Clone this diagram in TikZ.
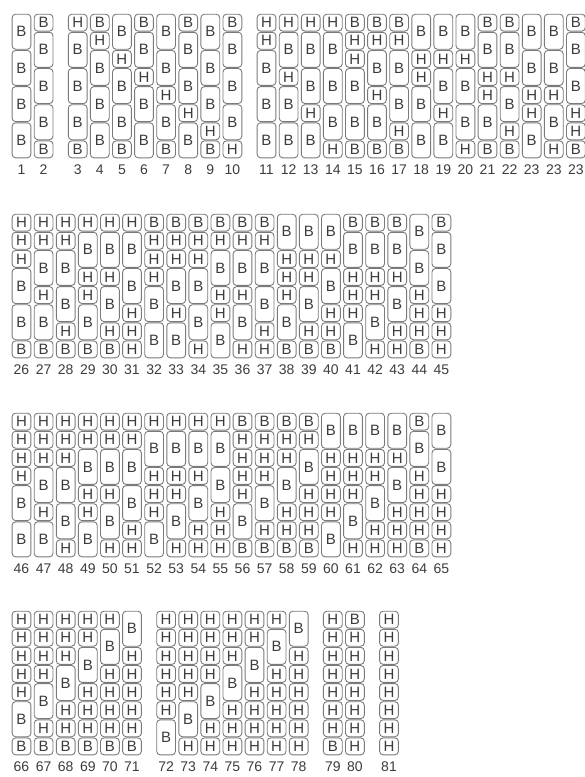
\documentclass[tikz,border=0pt]{standalone}
\usepackage{fontspec}
\setmainfont{Liberation Sans}
\usetikzlibrary{positioning}
\definecolor{brickline}{HTML}{7A7A7A}
\definecolor{bricktext}{HTML}{3C3C3C}

\newcommand{\cpitch}{22.1}
\newcommand{\cunit}{18.1}
% #1 name, #2 column index, #3 group, #4 top, #5 label, #6 cells from top
\newcommand{\brickcol}[6]{%
  \coordinate (#1-0) at ({21.5+#2*\cpitch+#3*12}, #4);
  \foreach \c [count=\k, remember=\k as \kp (initially 0)] in {#6}
    \node[cell \c, name=#1-\k, below=1.2pt of #1-\kp];
  \node[numlabel] (#1-lbl) at ({21.5+#2*\cpitch+#3*12}, #4+157) {#5};
}

\begin{document}
\begin{tikzpicture}[x=1pt, y=-1pt,
  brick/.style={draw=brickline, line width=0.9pt, rounded corners=3.5pt, minimum width=18.8pt, inner sep=0pt, outer sep=0pt, text=bricktext, font=\fontsize{15}{15}\selectfont},
  cell H/.style={brick, minimum height=\cunit pt-1.2pt, node contents=H},
  cell b/.style={brick, minimum height=\cunit pt-1.2pt, node contents=B},
  cell B/.style={brick, minimum height=2*\cunit pt-1.2pt, node contents=B},
  numlabel/.style={inner sep=0pt, text=bricktext, font=\fontsize{14}{14}\selectfont}
]
  \useasboundingbox (0,0) rectangle (585,777);

  % first row
  \brickcol{c1}{0}{0}{13}{1}{B,B,B,B}
  \brickcol{c2}{1}{0}{13}{2}{b,B,B,B,b}
  \brickcol{c3}{2}{1}{13}{3}{H,B,B,B,b}
  \brickcol{c4}{3}{1}{13}{4}{b,H,B,B,B}
  \brickcol{c5}{4}{1}{13}{5}{B,H,B,B,b}
  \brickcol{c6}{5}{1}{13}{6}{b,B,H,B,B}
  \brickcol{c7}{6}{1}{13}{7}{B,B,H,B,b}
  \brickcol{c8}{7}{1}{13}{8}{b,B,B,H,B}
  \brickcol{c9}{8}{1}{13}{9}{B,B,B,H,b}
  \brickcol{c10}{9}{1}{13}{10}{b,B,B,B,H}
  \brickcol{c11}{10}{2}{13}{11}{H,H,B,B,B}
  \brickcol{c12}{11}{2}{13}{12}{H,B,H,B,B}
  \brickcol{c13}{12}{2}{13}{13}{H,B,B,H,B}
  \brickcol{c14}{13}{2}{13}{14}{H,B,B,B,H}
  \brickcol{c15}{14}{2}{13}{15}{b,H,H,B,B,b}
  \brickcol{c16}{15}{2}{13}{16}{b,H,B,H,B,b}
  \brickcol{c17}{16}{2}{13}{17}{b,H,B,B,H,b}
  \brickcol{c18}{17}{2}{13}{18}{B,H,H,B,B}
  \brickcol{c19}{18}{2}{13}{19}{B,H,B,H,B}
  \brickcol{c20}{19}{2}{13}{20}{B,H,B,B,H}
  \brickcol{c21}{20}{2}{13}{21}{b,B,H,H,B,b}
  \brickcol{c22}{21}{2}{13}{22}{b,B,H,B,H,b}
  \brickcol{c23}{22}{2}{13}{23}{B,B,H,H,B}
  \brickcol{c24}{23}{2}{13}{23}{B,B,H,B,H}
  \brickcol{c25}{24}{2}{13}{23}{b,B,B,H,H,b}

  % second row
  \brickcol{c26}{0}{0}{213}{26}{H,H,H,B,B,b}
  \brickcol{c27}{1}{0}{213}{27}{H,H,B,H,B,b}
  \brickcol{c28}{2}{0}{213}{28}{H,H,B,B,H,b}
  \brickcol{c29}{3}{0}{213}{29}{H,B,H,H,B,b}
  \brickcol{c30}{4}{0}{213}{30}{H,B,H,B,H,b}
  \brickcol{c31}{5}{0}{213}{31}{H,B,B,H,H,H}
  \brickcol{c32}{6}{0}{213}{32}{b,H,H,H,B,B}
  \brickcol{c33}{7}{0}{213}{33}{b,H,H,B,H,B}
  \brickcol{c34}{8}{0}{213}{34}{b,H,H,B,B,H}
  \brickcol{c35}{9}{0}{213}{35}{b,H,B,H,H,B}
  \brickcol{c36}{10}{0}{213}{36}{b,H,B,H,B,H}
  \brickcol{c37}{11}{0}{213}{37}{b,H,B,B,H,H}
  \brickcol{c38}{12}{0}{213}{38}{B,H,H,H,B,b}
  \brickcol{c39}{13}{0}{213}{39}{B,H,H,B,H,b}
  \brickcol{c40}{14}{0}{213}{40}{B,H,B,H,H,b}
  \brickcol{c41}{15}{0}{213}{41}{b,B,H,H,H,B}
  \brickcol{c42}{16}{0}{213}{42}{b,B,H,H,B,H}
  \brickcol{c43}{17}{0}{213}{43}{b,B,H,B,H,H}
  \brickcol{c44}{18}{0}{213}{44}{B,B,H,H,H,b}
  \brickcol{c45}{19}{0}{213}{45}{b,B,B,H,H,H}

  % third row
  \brickcol{c46}{0}{0}{412}{46}{H,H,H,H,B,B}
  \brickcol{c47}{1}{0}{412}{47}{H,H,H,B,H,B}
  \brickcol{c48}{2}{0}{412}{48}{H,H,H,B,B,H}
  \brickcol{c49}{3}{0}{412}{49}{H,H,B,H,H,B}
  \brickcol{c50}{4}{0}{412}{50}{H,H,B,H,B,H}
  \brickcol{c51}{5}{0}{412}{51}{H,H,B,B,H,H}
  \brickcol{c52}{6}{0}{412}{52}{H,B,H,H,H,B}
  \brickcol{c53}{7}{0}{412}{53}{H,B,H,H,B,H}
  \brickcol{c54}{8}{0}{412}{54}{H,B,H,B,H,H}
  \brickcol{c55}{9}{0}{412}{55}{H,B,B,H,H,H}
  \brickcol{c56}{10}{0}{412}{56}{b,H,H,H,H,B,b}
  \brickcol{c57}{11}{0}{412}{57}{b,H,H,H,B,H,b}
  \brickcol{c58}{12}{0}{412}{58}{b,H,H,B,H,H,b}
  \brickcol{c59}{13}{0}{412}{59}{b,H,B,H,H,H,b}
  \brickcol{c60}{14}{0}{412}{60}{B,H,H,H,H,B}
  \brickcol{c61}{15}{0}{412}{61}{B,H,H,H,B,H}
  \brickcol{c62}{16}{0}{412}{62}{B,H,H,B,H,H}
  \brickcol{c63}{17}{0}{412}{63}{B,H,B,H,H,H}
  \brickcol{c64}{18}{0}{412}{64}{b,B,H,H,H,H,b}
  \brickcol{c65}{19}{0}{412}{65}{B,B,H,H,H,H}

  % fourth row
  \brickcol{c66}{0}{0}{610}{66}{H,H,H,H,H,B,b}
  \brickcol{c67}{1}{0}{610}{67}{H,H,H,H,B,H,b}
  \brickcol{c68}{2}{0}{610}{68}{H,H,H,B,H,H,b}
  \brickcol{c69}{3}{0}{610}{69}{H,H,B,H,H,H,b}
  \brickcol{c70}{4}{0}{610}{70}{H,B,H,H,H,H,b}
  \brickcol{c71}{5}{0}{610}{71}{B,H,H,H,H,H,b}
  \brickcol{c72}{6}{1}{610}{72}{H,H,H,H,H,H,B}
  \brickcol{c73}{7}{1}{610}{73}{H,H,H,H,H,B,H}
  \brickcol{c74}{8}{1}{610}{74}{H,H,H,H,B,H,H}
  \brickcol{c75}{9}{1}{610}{75}{H,H,H,B,H,H,H}
  \brickcol{c76}{10}{1}{610}{76}{H,H,B,H,H,H,H}
  \brickcol{c77}{11}{1}{610}{77}{H,B,H,H,H,H,H}
  \brickcol{c78}{12}{1}{610}{78}{B,H,H,H,H,H,H}
  \brickcol{c79}{13}{2}{610}{79}{H,H,H,H,H,H,H,b}
  \brickcol{c80}{14}{2}{610}{80}{b,H,H,H,H,H,H,H}
  \brickcol{c81}{15}{3}{610}{81}{H,H,H,H,H,H,H,H}
\end{tikzpicture}
\end{document}
